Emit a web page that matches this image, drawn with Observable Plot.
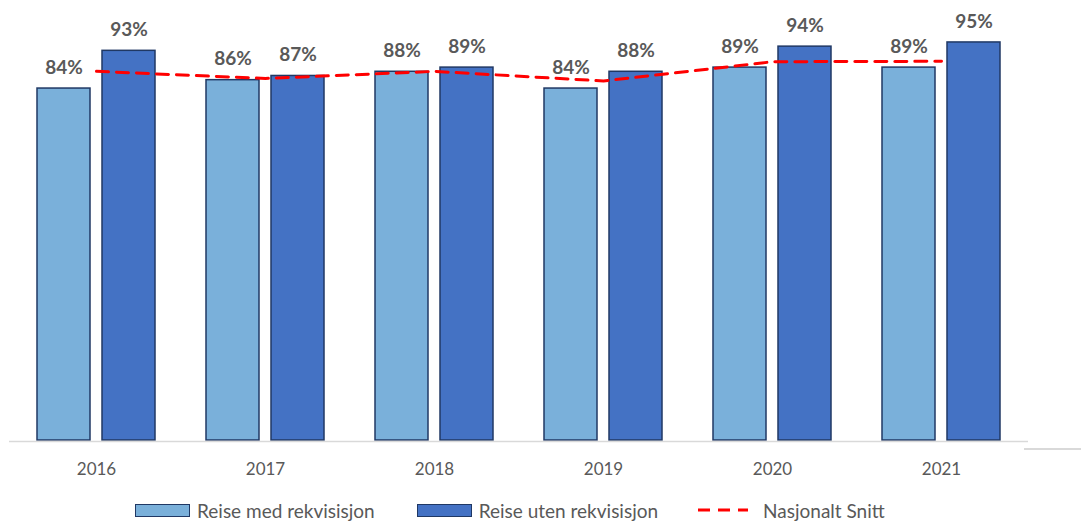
<!DOCTYPE html>
<html>
<head>
<meta charset="utf-8">
<script src="https://cdn.jsdelivr.net/npm/d3@7"></script>
<script src="https://cdn.jsdelivr.net/npm/@observablehq/plot@0.6"></script>
<style>
  html, body { margin: 0; padding: 0; background: #fff; overflow: hidden; }
  body { width: 1081px; height: 523px; position: relative; font-family: Lato, "Open Sans", sans-serif; }
  #chart svg { display: block; }
  .legend { display: flex; align-items: center; padding-left: 135px; margin-top: 9px; height: 22px;
            font-family: Lato, sans-serif; font-size: 19px; color: #595959; }
  .legend .item { display: flex; align-items: center; }
  .sw { width: 53px; height: 11px; border: 1.5px solid #203864; margin-right: 7px; }
  .stub { position: absolute; left: 1024px; top: 448px; width: 57px; height: 2px; background: #d9d9d9; }
</style>
</head>
<body>
<div id="chart"></div>
<div class="legend">
  <div class="item"><div class="sw" style="background:#7AB0DA"></div><span>Reise med rekvisisjon</span></div>
  <div class="item" style="margin-left:42px"><div class="sw" style="background:#4472C4"></div><span>Reise uten rekvisisjon</span></div>
  <div class="item" style="margin-left:40px"><svg width="50" height="6" style="margin-right:15px"><line x1="0" y1="3" x2="50" y2="3" stroke="#ff0000" stroke-width="3" stroke-dasharray="12,8"/></svg><span>Nasjonalt Snitt</span></div>
</div>
<div class="stub"></div>
<script>
const years = ["2016", "2017", "2018", "2019", "2020", "2021"];
const medRekvisisjon = [84, 86, 88, 84, 89, 89];
const utenRekvisisjon = [93, 87, 89, 88, 94, 95];
const nasjonaltSnitt = [88.1, 86.4, 88.1, 85.8, 90.4, 90.5];

const medData = years.map((y, i) => ({year: y, value: medRekvisisjon[i]}));
const utenData = years.map((y, i) => ({year: y, value: utenRekvisisjon[i]}));
const snittData = years.map((y, i) => ({year: y, value: nasjonaltSnitt[i]}));

const fmt = d => `${Math.round(d.value)}%`;

const chart = Plot.plot({
  width: 1081,
  height: 490,
  marginLeft: 9,
  marginRight: 53,
  marginTop: 21,
  marginBottom: 50,
  style: { fontFamily: "Lato, sans-serif", color: "#595959", background: "white" },
  x: { type: "band", domain: years, paddingInner: 0.3, paddingOuter: 0.15, label: null },
  y: { domain: [0, 100], axis: null },
  marks: [
    Plot.barY(medData, { x: "year", y: "value", fill: "#7AB0DA", stroke: "#203864", strokeWidth: 1.5, insetRight: 65 }),
    Plot.barY(utenData, { x: "year", y: "value", fill: "#4472C4", stroke: "#203864", strokeWidth: 1.5, insetLeft: 65 }),
    Plot.ruleY([0], { stroke: "#d9d9d9", strokeWidth: 1.5, dy: 1 }),
    Plot.lineY(snittData, { x: "year", y: "value", stroke: "#ff0000", strokeWidth: 3, strokeDasharray: "12,8" }),
    Plot.text(medData, { x: "year", y: "value", text: fmt, dx: -32.5, dy: -21, fontSize: 19, fontWeight: "bold", fill: "#595959" }),
    Plot.text(utenData, { x: "year", y: "value", text: fmt, dx: 32.5, dy: -21, fontSize: 19, fontWeight: "bold", fill: "#595959" }),
    Plot.axisX({ tickSize: 0, tickPadding: 22, fontSize: 17, fill: "#595959", label: null })
  ]
});
document.getElementById("chart").appendChild(chart);
</script>
</body>
</html>
